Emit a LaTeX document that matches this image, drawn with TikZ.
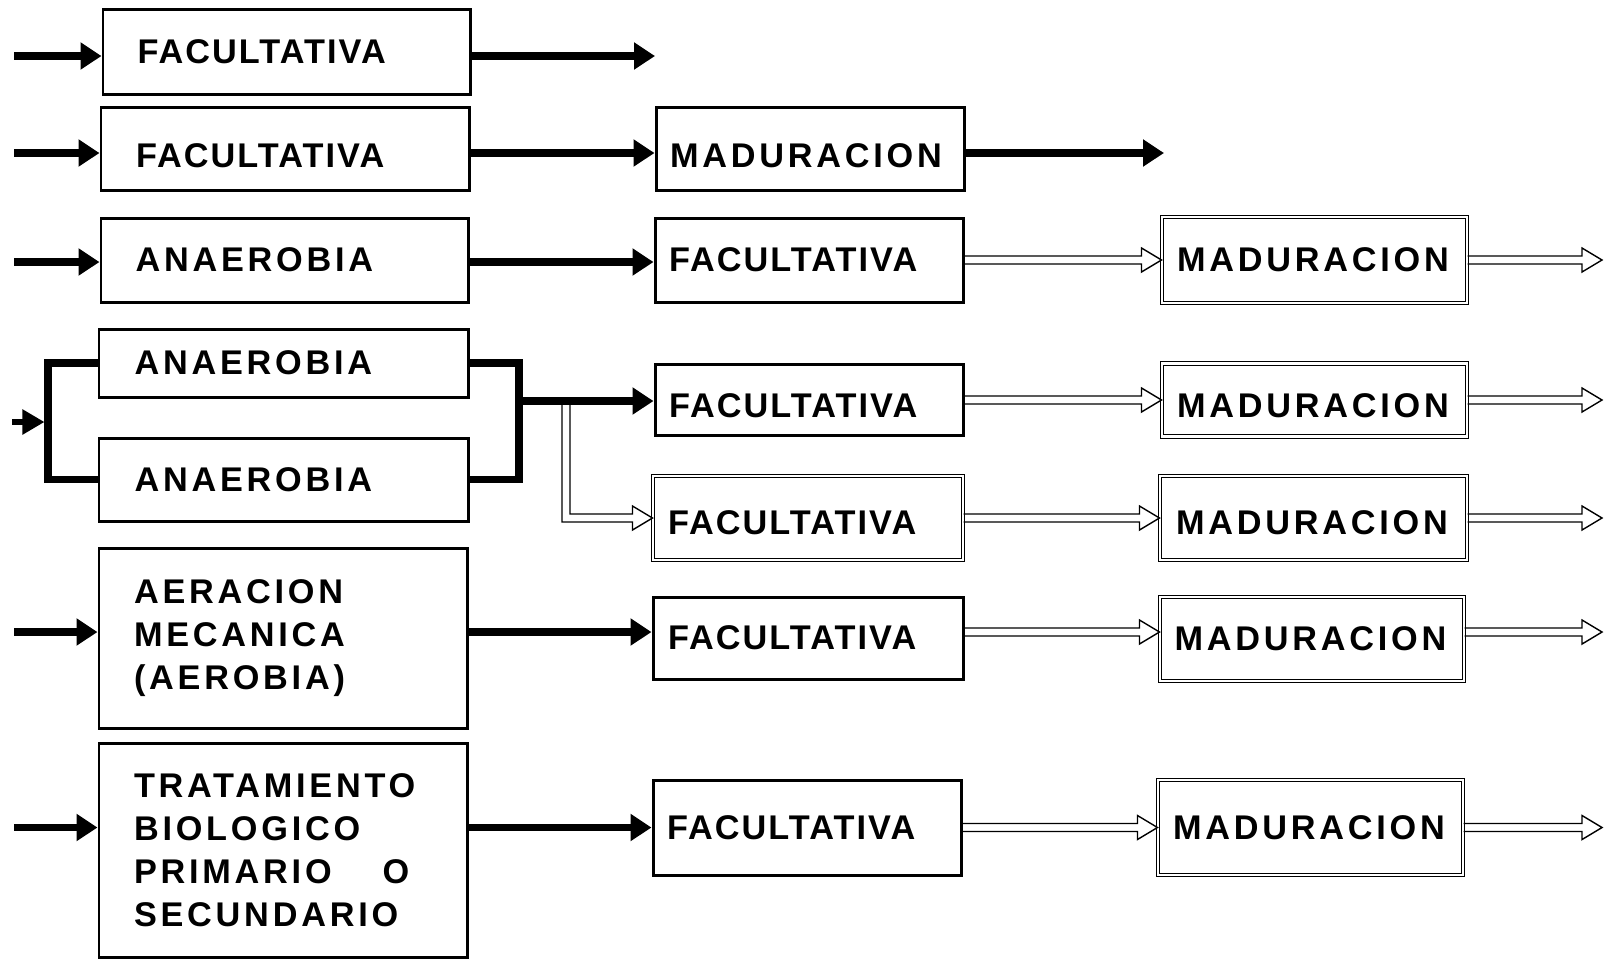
\documentclass[tikz,border=0pt]{standalone}
\usepackage{fontspec}
\newfontfamily\lblfont{Liberation Sans}[LetterSpace=11]
\newfontfamily\facfont{Liberation Sans}[LetterSpace=6]
\newcommand\facword{{\facfont FACULTATIVA}}
\usetikzlibrary{arrows.meta,calc}
\newcommand\hollowarr[2]{\draw[hollowline] ($(#1)+(0,-4)$) -- ($(#2)+(-20,-4)$) -- ($(#2)+(-20,-12)$) -- (#2) -- ($(#2)+(-20,12)$) -- ($(#2)+(-20,4)$) -- ($(#1)+(0,4)$);}
\begin{document}
\begin{tikzpicture}[x=0.02cm,y=-0.02cm,
 txt/.style={font=\lblfont\bfseries\fontsize{19.5}{24.4}\selectfont, align=left, inner xsep=0pt, inner ysep=0pt},
 lbox/.style={txt, draw, line width=1.7pt, text width=5.96cm},
 mbox/.style={txt, draw, line width=1.7pt, text width=5.6cm},
 mdbox/.style={txt, draw, double, line width=0.6pt, double distance=1.6pt, text width=5.6cm},
 rdbox/.style={txt, draw, double, line width=0.6pt, double distance=1.6pt, text width=5.5cm},
 sz/.style 2 args={minimum width=#1*0.02cm, minimum height=#2*0.02cm},
 low/.style={text height=#1, text depth=0pt},
 thickarr/.style={line width=4.2pt, -{Triangle[length=4.2mm,width=5.2mm]}},
 bracket/.style={line width=4.5pt, line join=miter},
 hollowline/.style={line width=0.8pt, line join=miter},
]
\useasboundingbox (0,0) rectangle (1605,958);

% boxes
\node[lbox, sz={367}{85}] (f1) at (286.5,52) {\facword};
\node[lbox, sz={368}{83}, low=21.5pt] (f2) at (285,149) {\facword};
\node[mbox, sz={308}{83}, low=21.5pt] (m2) at (810,149) {MADURACION};
\node[lbox, sz={367}{84}] (a3) at (284.5,260) {ANAEROBIA};
\node[mbox, sz={308}{84}] (f3) at (809,260) {\facword};
\node[rdbox, sz={305}{86}] (m3) at (1314.5,260) {MADURACION};
\node[lbox, sz={369}{68}] (a4a) at (283.5,363) {ANAEROBIA};
\node[lbox, sz={369}{83}] (a4b) at (283.5,479.5) {ANAEROBIA};
\node[mbox, sz={308}{71}, low=19.7pt] (f4) at (809,400) {\facword};
\node[rdbox, sz={305}{73}, low=19.7pt] (m4) at (1314.5,400) {MADURACION};
\node[mdbox, sz={310}{84}, low=18.5pt] (f5) at (808,518) {\facword};
\node[rdbox, sz={307}{84}, low=18.5pt] (m5) at (1313.5,518) {MADURACION};
\node[lbox, sz={368}{180}] (ae) at (283,638) {AERACION\\MECANICA\\(AEROBIA)};
\node[mbox, sz={310}{82}] (f6) at (808,638) {\facword};
\node[rdbox, sz={304}{84}] (m6) at (1312,639) {MADURACION};
\node[lbox, sz={368}{214}] (tr) at (283,850) {TRATAMIENTO\\BIOLOGICO\\PRIMARIO\hspace{29pt}O\\SECUNDARIO};
\node[mbox, sz={308}{95}] (f7) at (807,827.5) {\facword};
\node[rdbox, sz={305}{95}] (m7) at (1310.5,827.5) {MADURACION};

% free ends
\coordinate (in1) at (14,56);
\coordinate (out1) at (655,56);
\coordinate (in2) at (14,153);
\coordinate (out2) at (1164,153);
\coordinate (in3) at (14,262);
\coordinate (o3) at (1602,260);
\coordinate (lb) at (48,422);
\coordinate (in4) at (12,422);
\coordinate (rb) at (519,401);
\coordinate (br) at (566,401);
\coordinate (o4) at (1602,400);
\coordinate (o5) at (1602,518);
\coordinate (in6) at (14,632);
\coordinate (o6) at (1602,632);
\coordinate (in7) at (14,827.5);
\coordinate (o7) at (1602,827.5);

% row 1
\draw[thickarr] (in1) -- (in1 -| f1.west);
\draw[thickarr] (in1 -| f1.east) -- (out1);
% row 2
\draw[thickarr] (in2) -- (in2 -| f2.west);
\draw[thickarr] (in2 -| f2.east) -- (in2 -| m2.west);
\draw[thickarr] (in2 -| m2.east) -- (out2);
% row 3
\draw[thickarr] (in3) -- (in3 -| a3.west);
\draw[thickarr] (in3 -| a3.east) -- (in3 -| f3.west);
\hollowarr{f3.east}{m3.west}
\hollowarr{m3.east}{o3}
% row 4
\draw[bracket] (a4a.west) -| (lb) |- (a4b.west);
\draw[line width=3pt, -{Triangle[length=4.4mm,width=4.8mm]}, shorten >=2pt] (in4) -- (lb);
\draw[bracket] (a4a.east) -| (rb) |- (a4b.east);
\draw[thickarr] (rb) -- (rb -| f4.west);
\hollowarr{f4.east}{m4.west}
\hollowarr{m4.east}{o4}
% row 5 branch
\draw[hollowline] ($(br)+(4,4)$) -- ($(br |- f5.west)+(4,-4)$) -- ($(f5.west)+(-20,-4)$) -- ($(f5.west)+(-20,-12)$) -- (f5.west) -- ($(f5.west)+(-20,12)$) -- ($(f5.west)+(-20,4)$) -- ($(br |- f5.west)+(-4,4)$) -- ($(br)+(-4,4)$);
\hollowarr{f5.east}{m5.west}
\hollowarr{m5.east}{o5}
% row 6
\draw[thickarr] (in6) -- (in6 -| ae.west);
\draw[thickarr] (in6 -| ae.east) -- (in6 -| f6.west);
\hollowarr{f6.east |- in6}{m6.west |- in6}
\hollowarr{m6.east |- in6}{o6}
% row 7
\draw[thickarr] (in7) -- (in7 -| tr.west);
\draw[thickarr] (in7 -| tr.east) -- (f7.west);
\hollowarr{f7.east}{m7.west}
\hollowarr{m7.east}{o7}
\end{tikzpicture}
\end{document}
